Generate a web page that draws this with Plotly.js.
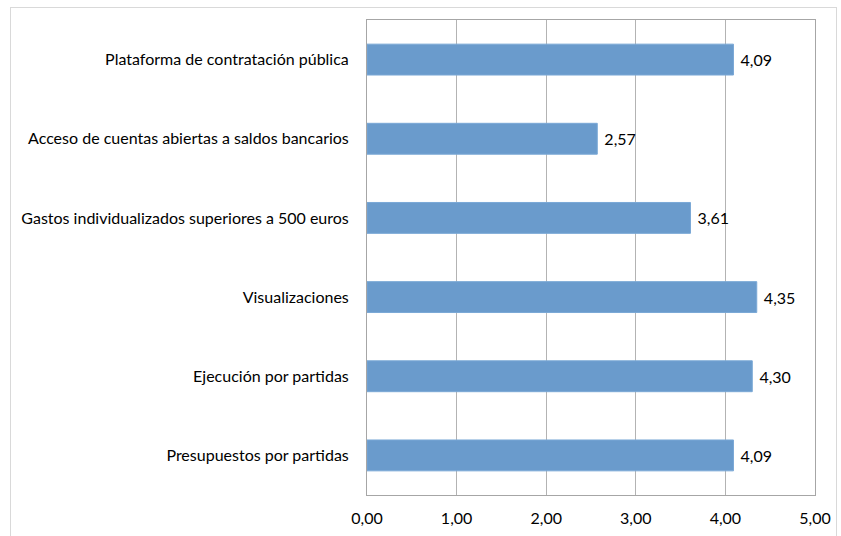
<!DOCTYPE html>
<html>
<head>
<meta charset="utf-8">
<script src="https://cdn.plot.ly/plotly-3.0.1.min.js"></script>
<style>
html,body{margin:0;padding:0;background:#fff;}
#frame{position:absolute;left:10px;top:7px;width:827px;height:540px;border:1px solid #d9d9d9;box-sizing:border-box;}
#chart{position:absolute;left:0;top:0;width:841px;height:536px;}
</style>
</head>
<body>
<div id="frame"></div>
<div id="chart"></div>
<script>
const categories = [
  "Presupuestos por partidas",
  "Ejecución por partidas",
  "Visualizaciones",
  "Gastos individualizados superiores a 500 euros",
  "Acceso de cuentas abiertas a saldos bancarios",
  "Plataforma de contratación pública"
];
const values = [4.09, 4.30, 4.35, 3.61, 2.57, 4.09];
const tickValues = [0, 1, 2, 3, 4, 5];

const fontFam = "Lato, 'Open Sans', sans-serif";

Plotly.newPlot('chart', [{
  type: 'bar',
  orientation: 'h',
  y: categories,
  x: values,
  width: 0.39,
  marker: {color: '#6a9bcc', line: {color: '#7aa8d6', width: 1}},
  text: values.map(v => '\u00a0' + v.toFixed(2).replace('.', ',')),
  textposition: 'outside',
  textfont: {family: fontFam, size: 16, color: '#000'},
  cliponaxis: false,
  hoverinfo: 'skip'
}], {
  width: 841,
  height: 536,
  margin: {l: 367, r: 26, t: 20, b: 41, pad: 0},
  paper_bgcolor: 'rgba(0,0,0,0)',
  plot_bgcolor: '#fff',
  separators: ',.',
  showlegend: false,
  xaxis: {
    range: [0, 5],
    tickvals: tickValues,
    tickformat: '.2f',
    showgrid: true,
    gridcolor: '#b3b3b3',
    gridwidth: 1,
    zeroline: false,
    showline: true,
    linecolor: '#a6a6a6',
    mirror: true,
    ticks: 'outside',
    ticklen: 9,
    tickcolor: 'rgba(0,0,0,0)',
    tickfont: {family: fontFam, size: 16, color: '#000'},
    fixedrange: true
  },
  yaxis: {
    type: 'category',
    showgrid: false,
    zeroline: false,
    showline: true,
    linecolor: '#a6a6a6',
    mirror: true,
    ticks: 'outside',
    ticklen: 14,
    tickcolor: 'rgba(0,0,0,0)',
    tickfont: {family: fontFam, size: 16, color: '#000'},
    fixedrange: true
  },
  bargap: 0.61
}, {displayModeBar: false, staticPlot: true});
</script>
</body>
</html>
